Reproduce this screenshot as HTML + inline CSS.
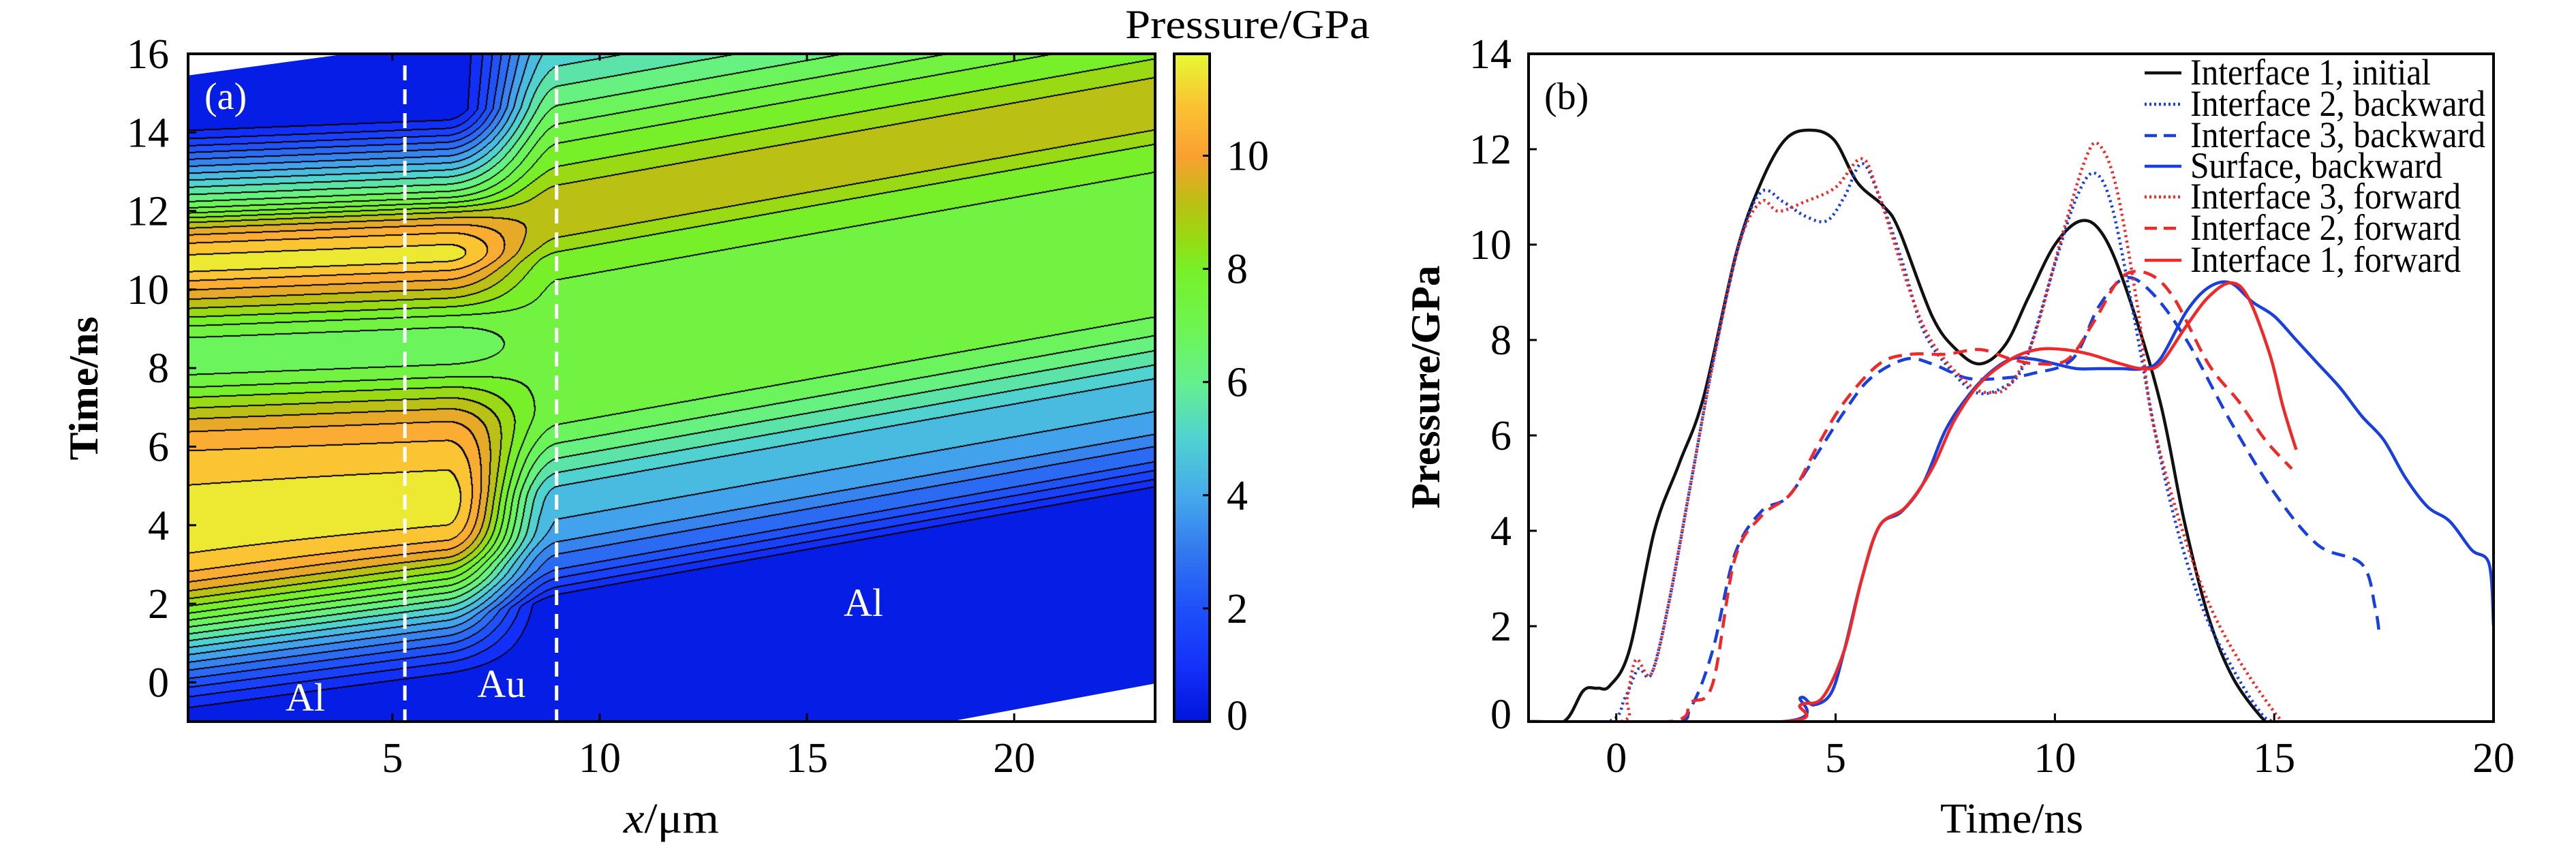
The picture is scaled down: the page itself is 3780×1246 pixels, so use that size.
<!DOCTYPE html>
<html><head><meta charset="utf-8">
<style>
html,body{margin:0;padding:0;background:#fff;}
#wrap{position:relative;width:3780px;height:1246px;overflow:hidden;background:#fff;}
#field{position:absolute;left:276px;top:79px;}
svg{position:absolute;left:0;top:0;}
text{font-family:"Liberation Serif",serif;}
</style></head>
<body>
<div id="wrap">
<canvas id="field" width="1419" height="980"></canvas>
<svg id="svg" width="3780" height="1246" viewBox="0 0 3780 1246">
  <defs><linearGradient id="cbgrad" x1="0" y1="1" x2="0" y2="0"></linearGradient></defs>
  <g id="aLayer"></g>
  <g id="bLayer"></g>
</svg>
</div>
<script>
// ---------- Panel (a) data: pressure histories ----------
const leftTimes = [-0.7,-0.3,0.3,1.0,1.6,2.2,2.8,3.4,4.2,5.0,5.8,6.5,7.2,7.8,8.4,9.0,9.6,10.2,10.7,11.2,11.7,12.2,12.8,13.4,14.0,14.4];
const leftValues = [0,0.6,2,4,6,8,9.8,11,11.5,11.3,10.8,10.0,8.6,7.3,6.6,7.3,8.8,10.3,11.4,10.8,9.3,7.0,5.0,3.0,1.0,0];
const rightTimes = [2.1,2.3,2.6,2.9,3.3,3.8,4.3,4.9,5.4,5.9,6.4,7.0,8.5,10.0,10.8,11.2,11.8,12.5,13.1,13.7,14.2,14.6,15.1,15.6,16.5];
const rightValues = [0,0.8,1.6,2.4,3.0,3.9,4.2,4.6,5.4,6.2,6.9,7.4,7.5,7.6,8.0,8.7,9.2,9.0,8.3,7.7,7.1,6.6,6.0,5.4,4.6];
const xTicksA = [5,10,15,20];
const yTicksA = [0,2,4,6,8,10,12,14,16];
const cbTicks = [0,2,4,6,8,10];
const interfaceX = [5.3,8.96];
// ---------- Panel (b) data ----------
const xTicksB = [0,5,10,15,20];
const yTicksB = [0,2,4,6,8,10,12,14];
const i1initT = [-2,-1.2,-0.75,-0.43,-0.15,0.3,0.87,1.43,1.99,2.73,3.3,3.85,4.4,4.96,5.5,6.1,6.45,7.2,7.75,8.3,8.87,9.4,10.0,10.6,11.1,11.65,12.4,12.95,13.5,14.07,14.8,15.0];
const i1initP = [0,0,0.65,0.7,0.75,1.5,4,5.4,6.8,9.8,11.3,12.2,12.4,12.2,11.3,10.8,10.3,8.5,7.8,7.5,7.9,8.9,10.0,10.5,10.2,9.0,6.7,4.2,2.2,0.9,0,0];
const i2backT = [-2,-0.2,0.2,0.5,0.8,1.2,1.7,2.2,2.8,3.3,3.8,4.3,4.8,5.2,5.6,6.0,6.5,7.0,7.6,8.2,8.8,9.3,10.0,10.5,10.9,11.3,11.8,12.3,12.8,13.4,14.0,14.6,15.0,16.0];
const i2backP = [0,0,0.5,1.1,1.0,2.5,5,7.5,10,11.1,10.9,10.6,10.5,11,11.7,11,9.7,8.2,7.4,6.9,7.0,7.5,9.6,11,11.5,10.8,8.5,6,4,2.3,1.2,0.3,0,0];
const i3backT = [-2,1.2,1.7,2.2,2.7,3.3,3.9,4.5,5.2,5.8,6.6,7.2,8.0,8.8,9.5,10.4,11.0,11.6,12.2,13.0,14.0,15.0,16.0,17.0,17.3,17.4];
const i3backP = [0,0,0.3,1.5,3.5,4.4,4.7,5.5,6.5,7.2,7.6,7.5,7.2,7.2,7.3,7.6,8.7,9.3,9.0,8.0,6.3,4.8,3.7,3.3,2.4,1.8];
const surfT = [-2,3.8,4.2,4.5,4.9,5.2,5.6,6.0,6.5,7.0,7.5,8.0,8.5,9.0,9.5,10.0,10.5,11.0,11.5,12.0,12.4,13.0,13.5,14.0,14.5,15.0,15.5,16.0,16.5,17.0,17.5,18.0,18.5,19.0,19.5,19.9,20.0];
const surfP = [0,0,0.5,0.35,0.6,1.5,3.0,4.1,4.4,5.0,6.1,6.8,7.3,7.6,7.6,7.5,7.4,7.4,7.4,7.4,7.6,8.6,9.1,9.2,8.8,8.5,8.0,7.5,7.0,6.4,5.9,5.1,4.5,4.2,3.6,3.3,2.0];
const i3fwdT = [-2,0.1,0.25,0.45,0.8,1.2,1.7,2.2,2.8,3.3,3.7,4.3,5.0,5.6,6.0,7.0,8.0,8.6,9.0,9.5,10.2,10.7,11.0,11.4,11.9,12.3,13.5,15.0,15.5];
const i3fwdP = [0,0,0.5,1.3,1.0,2.5,5,7.5,10,10.9,10.7,10.9,11.2,11.8,11,8.3,7.1,6.9,7.1,8.0,10.3,11.8,12.1,11.2,8.6,6.0,2.5,0.2,0];
const i2fwdT = [-2,1.2,1.7,2.2,2.7,3.3,4.0,4.6,5.2,6.0,6.7,7.5,8.3,9.0,9.6,10.3,10.9,11.5,12.1,12.7,13.5,14.2,14.8,15.4];
const i2fwdP = [0,0,0.4,0.8,3.4,4.3,4.8,5.8,6.7,7.5,7.7,7.7,7.8,7.6,7.5,7.6,8.4,9.3,9.4,8.9,7.5,6.7,5.9,5.3];
const i1fwdT = [-2,3.8,4.2,4.7,5.2,5.6,6.0,6.6,7.2,7.7,8.3,9.0,9.6,10.2,10.8,11.5,12.0,12.4,13.0,13.5,14.0,14.4,14.9,15.2,15.5];
const i1fwdP = [0,0,0.35,0.5,1.5,3,4.1,4.5,5.3,6.3,7.1,7.6,7.8,7.8,7.7,7.5,7.4,7.5,8.3,8.9,9.2,8.9,7.7,6.6,5.7];
const legendLabels = ["Interface 1, initial","Interface 2, backward","Interface 3, backward","Surface, backward","Interface 3, forward","Interface 2, forward","Interface 1, forward"];

// ---------- axes ----------
const A = {x0:276,x1:1695,y0:79,y1:1059,xmin:0.07,xmax:23.4,tmin:-1,tmax:16};
const axA = x => A.x0 + (x-A.xmin)/(A.xmax-A.xmin)*(A.x1-A.x0);
const ayA = t => A.y1 - (t-A.tmin)/(A.tmax-A.tmin)*(A.y1-A.y0);
const CB = {x0:1723,x1:1775,y0:79,y1:1059,vmax:11.8};
const acb = v => CB.y1 - v/CB.vmax*(CB.y1-CB.y0);
const B = {x0:2243,x1:3659,y0:79,y1:1059,xmin:-2,xmax:20,ymin:0,ymax:14};
const axB = x => B.x0 + (x-B.xmin)/(B.xmax-B.xmin)*(B.x1-B.x0);
const ayB = p => B.y1 - (p-B.ymin)/(B.ymax-B.ymin)*(B.y1-B.y0);

const NS="http://www.w3.org/2000/svg";
function mk(tag, attrs, parent, txt){
  const e=document.createElementNS(NS,tag);
  for(const k in attrs) e.setAttribute(k,attrs[k]);
  if(txt!==undefined) e.textContent=txt;
  parent.appendChild(e); return e;
}

// colormap
const cmStops=[[0,0,20,220],[1,20,50,250],[2,30,80,250],[3,50,120,240],[4,70,170,235],[5,80,210,210],[6,100,240,140],[7,110,245,80],[8,120,240,40],[8.5,150,220,20],[9.2,190,190,20],[10,250,160,50],[10.9,250,195,50],[11.8,230,250,50]];
function cmap(v){
  if(v<=cmStops[0][0]) return cmStops[0].slice(1);
  for(let i=1;i<cmStops.length;i++){
    if(v<=cmStops[i][0]){const a=cmStops[i-1],b=cmStops[i];const f=(v-a[0])/(b[0]-a[0]);
      return [a[1]+f*(b[1]-a[1]),a[2]+f*(b[2]-a[2]),a[3]+f*(b[3]-a[3])];}
  }
  return cmStops[cmStops.length-1].slice(1);
}
function interp(ts,vs,t){
  const n=ts.length;
  if(t<=ts[0]) return vs[0];
  if(t>=ts[n-1]) return vs[n-1];
  let i=0; while(ts[i+1]<t) i++;
  const h=ts[i+1]-ts[i], f=(t-ts[i])/h;
  const m0 = i>0 ? (vs[i+1]-vs[i-1])/(ts[i+1]-ts[i-1])*h : (vs[i+1]-vs[i]);
  const m1 = i<n-2 ? (vs[i+2]-vs[i])/(ts[i+2]-ts[i])*h : (vs[i+1]-vs[i]);
  const f2=f*f,f3=f2*f;
  return (2*f3-3*f2+1)*vs[i]+(f3-2*f2+f)*m0+(-2*f3+3*f2)*vs[i+1]+(f3-f2)*m1;
}
function field(x,t){
  const sL=0.14*(x-2.5)*(t<3?1:Math.max(0.3,1-(t-3)/4));
  const pl=Math.max(0,interp(leftTimes,leftValues,t-sL));
  const pr=Math.max(0,interp(rightTimes,rightValues,t-0.19*(x-9)));
  let w=Math.min(1,Math.max(0,(x-6.3)/2.7)); w=w*w*(3-2*w);
  if(x>=9) w=1;
  return pl*(1-w)+pr*w;
}
// draw field
(function(){
  const cv=document.getElementById('field'); const ctx=cv.getContext('2d');
  const W=cv.width,H=cv.height; const img=ctx.createImageData(W,H); const d=img.data;
  const step=0.59; const lev=new Int16Array(W*H);
  for(let j=0;j<H;j++){const t=A.tmax-(j+0.5)/H*(A.tmax-A.tmin);
    for(let i=0;i<W;i++){const x=A.xmin+(i+0.5)/W*(A.xmax-A.xmin);
      lev[j*W+i]=Math.floor(field(x,t)/step);}}
  const cols=[]; for(let k=0;k<40;k++) cols.push(cmap((k+0.5)*step));
  for(let p=0;p<W*H;p++){const c=cols[Math.max(0,Math.min(39,lev[p]))];d[p*4]=c[0];d[p*4+1]=c[1];d[p*4+2]=c[2];d[p*4+3]=255;}
  for(let j=0;j<H-1;j++)for(let i=0;i<W-1;i++){const p=j*W+i;
    if(lev[p]!==lev[p+1]||lev[p]!==lev[p+W]){for(const q of [p,p+1,p+W]){d[q*4]=0;d[q*4+1]=0;d[q*4+2]=0;}}}
  ctx.putImageData(img,0,0);
})();

const aL=document.getElementById('aLayer');
// white domain corners
let wc=mk('polygon',{points:`${axA(A.xmin)},${ayA(15.45)} ${axA(3.9)},${ayA(16)} ${axA(A.xmin)},${ayA(16)}`,fill:'#fff'},aL);


wc=mk('polygon',{points:`${axA(18.45)},${ayA(-1)} ${axA(A.xmax)},${ayA(-0.03)} ${axA(A.xmax)},${ayA(-1)}`,fill:'#fff'},aL);


// interface lines
interfaceX.forEach(xv=>{const l=mk('line',{x1:axA(xv),x2:axA(xv),y1:96,y2:A.y1,stroke:'#fff','stroke-width':5,'stroke-dasharray':'22 13'},aL);
  
  });
// frame
let fr=mk('rect',{x:A.x0,y:A.y0,width:A.x1-A.x0,height:A.y1-A.y0,fill:'none',stroke:'#000','stroke-width':4},aL);


yTicksA.forEach(v=>{const y=ayA(v);
  mk('line',{x1:A.x0,x2:A.x0+12,y1:y,y2:y,stroke:'#000','stroke-width':3},aL);
  const t=mk('text',{x:248,y:y+21,'font-size':62,'text-anchor':'end'},aL,String(v));
  
  });
xTicksA.forEach(v=>{const x=axA(v);
  mk('line',{x1:x,x2:x,y1:A.y1,y2:A.y1-12,stroke:'#000','stroke-width':3},aL);
  mk('line',{x1:x,x2:x,y1:A.y0,y2:A.y0+10,stroke:'#000','stroke-width':3},aL);
  const t=mk('text',{x:x,y:1133,'font-size':62,'text-anchor':'middle'},aL,String(v));
  
  });
let tx=mk('text',{x:300,y:160,'font-size':56,fill:'#fff'},aL,'(a)');
 
tx=mk('text',{x:448,y:1043,'font-size':58,fill:'#fff','text-anchor':'middle'},aL,'Al');
 
tx=mk('text',{x:736,y:1023,'font-size':58,fill:'#fff','text-anchor':'middle'},aL,'Au');
 
tx=mk('text',{x:1267,y:904,'font-size':58,fill:'#fff','text-anchor':'middle'},aL,'Al');
 
tx=mk('text',{x:915,y:1222,'font-size':62,textLength:140,lengthAdjust:'spacingAndGlyphs'},aL,'');
tx.innerHTML='<tspan font-style="italic">x</tspan>/μm';
 
tx=mk('text',{x:0,y:0,'font-size':60,'font-weight':'bold','text-anchor':'middle',textLength:211,lengthAdjust:'spacingAndGlyphs',transform:'translate(143,570) rotate(-90)'},aL,'Time/ns');
 
// colorbar
const grad=document.getElementById('cbgrad');
cmStops.forEach(s=>{mk('stop',{offset:(s[0]/CB.vmax),'stop-color':`rgb(${s[1]},${s[2]},${s[3]})`},grad);});
let cb=mk('rect',{x:CB.x0,y:CB.y0,width:CB.x1-CB.x0,height:CB.y1-CB.y0,fill:'url(#cbgrad)',stroke:'#000','stroke-width':4},aL);
 
cbTicks.forEach(v=>{const y=acb(v);
  mk('line',{x1:CB.x1,x2:CB.x1-10,y1:y,y2:y,stroke:'#000','stroke-width':3},aL);
  const t=mk('text',{x:1800,y:y+(v===0?12:21),'font-size':62},aL,String(v));
   });
tx=mk('text',{x:1651,y:56,'font-size':60,textLength:359,lengthAdjust:'spacingAndGlyphs'},aL,'Pressure/GPa');
 

// ---------- Panel b ----------
const bL=document.getElementById('bLayer');
function pathFrom(ts,ps){
  const pts=ts.map((t,i)=>[axB(t),ayB(ps[i])]);
  let d=`M${pts[0][0]},${pts[0][1]}`;
  for(let i=0;i<pts.length-1;i++){
    const p0=pts[Math.max(0,i-1)],p1=pts[i],p2=pts[i+1],p3=pts[Math.min(pts.length-1,i+2)];
    const c1=[p1[0]+(p2[0]-p0[0])/6,p1[1]+(p2[1]-p0[1])/6], c2=[p2[0]-(p3[0]-p1[0])/6,p2[1]-(p3[1]-p1[1])/6];
    d+=` C${c1[0].toFixed(1)},${c1[1].toFixed(1)} ${c2[0].toFixed(1)},${c2[1].toFixed(1)} ${p2[0].toFixed(1)},${p2[1].toFixed(1)}`;
  }
  return d;
}
const BLK='#111',BLU='#1a3fe0',RED='#f02828';
const series=[
  [i1initT,i1initP,BLK,'','series-interface1-initial'],
  [i2backT,i2backP,BLU,'3 5','series-interface2-backward'],
  [i3backT,i3backP,BLU,'20 12','series-interface3-backward'],
  [surfT,surfP,BLU,'','series-surface-backward'],
  [i3fwdT,i3fwdP,RED,'3 5','series-interface3-forward'],
  [i2fwdT,i2fwdP,RED,'20 12','series-interface2-forward'],
  [i1fwdT,i1fwdP,RED,'','series-interface1-forward']
];
const clip=mk('clipPath',{id:'clipB'},document.querySelector('defs'));
mk('rect',{x:B.x0,y:B.y0,width:B.x1-B.x0,height:B.y1-B.y0},clip);
const gS=mk('g',{'clip-path':'url(#clipB)'},bL);
series.forEach(s=>{const p=mk('path',{d:pathFrom(s[0],s[1]),fill:'none',stroke:s[2],'stroke-width':4.5,'stroke-dasharray':s[3]||'none','stroke-linejoin':'round'},gS);
   });
fr=mk('rect',{x:B.x0,y:B.y0,width:B.x1-B.x0,height:B.y1-B.y0,fill:'none',stroke:'#000','stroke-width':4},bL);
 
yTicksB.forEach(v=>{const y=ayB(v);
  mk('line',{x1:B.x0,x2:B.x0+12,y1:y,y2:y,stroke:'#000','stroke-width':3},bL);
  const t=mk('text',{x:2218,y:y+(v===0?10:21),'font-size':62,'text-anchor':'end'},bL,String(v));
   });
xTicksB.forEach(v=>{const x=axB(v);
  mk('line',{x1:x,x2:x,y1:B.y1,y2:B.y1-12,stroke:'#000','stroke-width':3},bL);
  const t=mk('text',{x:x,y:1133,'font-size':62,'text-anchor':'middle'},bL,String(v));
   });
tx=mk('text',{x:2266,y:160,'font-size':56},bL,'(b)');
 
tx=mk('text',{x:2847,y:1222,'font-size':62,textLength:210,lengthAdjust:'spacingAndGlyphs'},bL,'Time/ns');
 
tx=mk('text',{x:0,y:0,'font-size':60,'font-weight':'bold','text-anchor':'middle',textLength:357,lengthAdjust:'spacingAndGlyphs',transform:'translate(2112,568) rotate(-90)'},bL,'Pressure/GPa');
 
// legend
const legW=[353,433,433,370,397,397,397];
const legY=[107,153,199,244,289,335,382];
legendLabels.forEach((lab,i)=>{
  const g=mk('g',{},bL);
  
  
  mk('line',{x1:3147,x2:3201,y1:legY[i],y2:legY[i],stroke:series[i][2],'stroke-width':4.5,'stroke-dasharray':series[i][3]?(series[i][3]==='3 5'?'3 4':'18 10'):'none'},g);
  mk('text',{x:3214,y:legY[i]+17,'font-size':54,textLength:legW[i],lengthAdjust:'spacingAndGlyphs'},g,lab);
});
</script>
</body></html>
